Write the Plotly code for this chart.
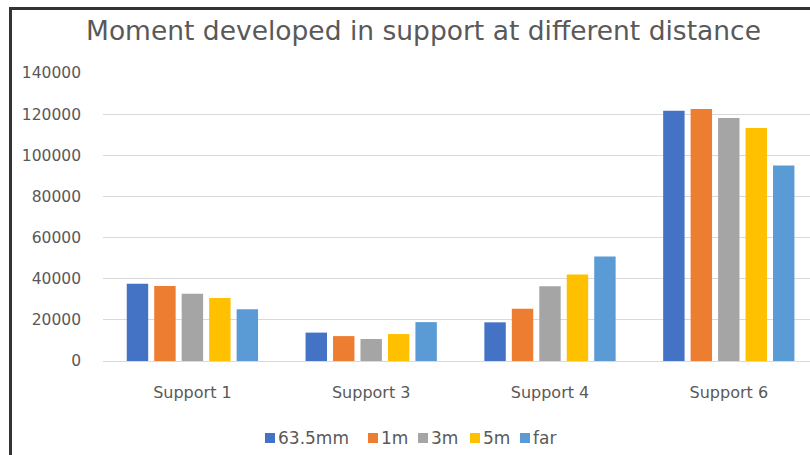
import plotly.graph_objects as go

categories = ["Support 1", "Support 3", "Support 4", "Support 6"]
series_names = ["63.5mm", "1m", "3m", "5m", "far"]
v_63_5mm = [37600, 13800, 18800, 121700]
v_1m = [36400, 12100, 25400, 122500]
v_3m = [32700, 10700, 36300, 118100]
v_5m = [30600, 13100, 42100, 113300]
v_far = [25200, 18900, 50800, 95000]
y_ticks = [0, 20000, 40000, 60000, 80000, 100000, 120000, 140000]
colors = ["#4472C4", "#ED7D31", "#A5A5A5", "#FFC000", "#5B9BD5"]

series_values = [v_63_5mm, v_1m, v_3m, v_5m, v_far]

W, H = 810, 455
L, R, T, B = 103, 810, 73, 361  # plot area pixel box
pw, ph = R - L, B - T

fig = go.Figure()
for name, vals, col in zip(series_names, series_values, colors):
    fig.add_trace(go.Bar(name=name, x=categories, y=vals, marker_color=col,
                         marker_line_width=0, showlegend=False))

font_family = "DejaVu Sans"
txt_col = "#595959"

# custom legend (square + label), positions in pixels
legend_sq_x = [265, 368, 418, 470, 520]
legend_y = 438
shapes = []
annotations = []
for nm, col, sx in zip(series_names, colors, legend_sq_x):
    x0 = (sx - L) / pw
    x1 = (sx + 10 - L) / pw
    y0 = (B - (legend_y + 5)) / ph
    y1 = (B - (legend_y - 5)) / ph
    shapes.append(dict(type="rect", xref="paper", yref="paper", x0=x0, x1=x1,
                       y0=y0, y1=y1, fillcolor=col, line_width=0))
    annotations.append(dict(text=nm, xref="paper", yref="paper",
                            x=(sx + 11 - L) / pw, y=(B - legend_y) / ph,
                            xanchor="left", yanchor="middle", showarrow=False,
                            font=dict(family=font_family, size=17, color=txt_col)))

# outer frame (left and top edges visible)
shapes.append(dict(type="rect", xref="paper", yref="paper",
                   x0=(10.5 - L) / pw, x1=(830 - L) / pw,
                   y0=(B - 470) / ph, y1=(B - 8.5) / ph,
                   line=dict(color="#333333", width=3), fillcolor="rgba(0,0,0,0)",
                   layer="below"))

fig.update_layout(
    width=W, height=H,
    margin=dict(l=L, r=W - R, t=T, b=H - B, pad=0),
    paper_bgcolor="white", plot_bgcolor="white",
    barmode="group", bargap=0.232, bargroupgap=0.22,
    showlegend=False,
    title=dict(text="Moment developed in support at different distance",
               x=423.5 / W, xanchor="center", y=1 - 31 / H, yanchor="middle",
               font=dict(family=font_family, size=26.5, color=txt_col)),
    xaxis=dict(range=[-0.5, -0.5 + pw / 178.8], showgrid=False, showline=False,
               zeroline=False, ticks="", ticklabelstandoff=20,
               tickfont=dict(family=font_family, size=16, color=txt_col)),
    yaxis=dict(range=[0, 140000], tickvals=y_ticks, ticktext=[str(v) for v in y_ticks],
               showgrid=True, gridcolor="#D9D9D9", gridwidth=1, zeroline=True,
               zerolinecolor="#D9D9D9", zerolinewidth=1, showline=False, ticks="",
               ticklabelstandoff=21,
               tickfont=dict(family=font_family, size=15.5, color=txt_col)),
    shapes=shapes, annotations=annotations,
)

fig.write_html("out.html")
